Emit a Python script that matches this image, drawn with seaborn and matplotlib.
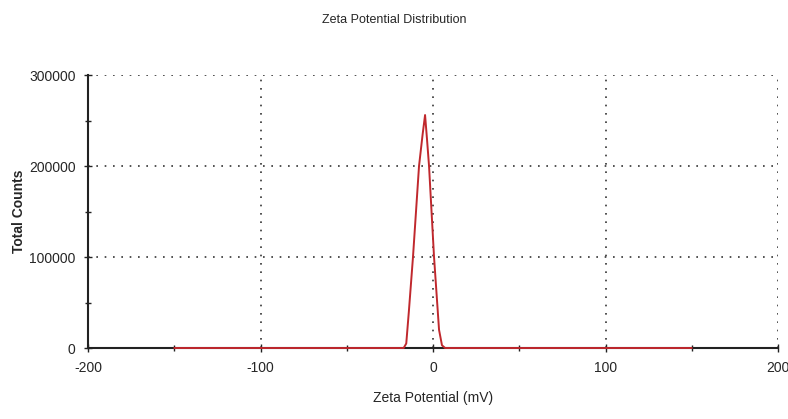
import matplotlib
matplotlib.use("Agg")
import matplotlib.pyplot as plt
import seaborn as sns
import pandas as pd
from matplotlib.ticker import MultipleLocator

zeta_mv = [-150, -17, -15.5, -14, -11.6, -8.1, -6, -4.6, -3.5, -2.3, 0.6, 3.5, 5.2, 7, 150]
counts = [0, 0, 5000, 40000, 100000, 200000, 235000, 256000, 230000, 200000, 100000, 20000, 3000, 0, 0]
x_ticks = [-200, -100, 0, 100, 200]
y_ticks = [0, 100000, 200000, 300000]

sns.set_theme(style="white")
plt.rcParams['font.family'] = ['Liberation Sans', 'DejaVu Sans']

df = pd.DataFrame({"Zeta Potential (mV)": zeta_mv, "Total Counts": counts})

fig = plt.figure(figsize=(7.88, 4.19), dpi=100)
ax = fig.add_axes([88/788, 1-348/419, 690/788, 273/419])

sns.lineplot(data=df, x="Zeta Potential (mV)", y="Total Counts", ax=ax,
             color="#c0282d", linewidth=1.4, zorder=5, clip_on=False)

ax.set_xlim(-200, 200)
ax.set_ylim(0, 300000)
ax.set_xticks(x_ticks)
ax.set_yticks(y_ticks)
ax.set_xticklabels([str(v) for v in x_ticks], fontsize=10)
ax.set_yticklabels([str(v) for v in y_ticks], fontsize=10)
ax.xaxis.set_minor_locator(MultipleLocator(50))
ax.yaxis.set_minor_locator(MultipleLocator(50000))
ax.tick_params(axis='both', which='major', direction='inout', length=6, width=1, color='#222222', pad=6)
ax.tick_params(axis='both', which='minor', direction='inout', length=5, width=1, color='#222222')
ax.tick_params(axis='x', which='both', bottom=True)
ax.tick_params(axis='y', which='both', left=True)

for v in [100000, 200000, 300000]:
    ax.axhline(v, color='#333333', linestyle=(0, (1, 4)), linewidth=1.2, zorder=1)
for v in [-100, 0, 100, 200]:
    ax.axvline(v, color='#333333', linestyle=(0, (1, 4)), linewidth=1.2, zorder=1)

for s in ['top', 'right']:
    ax.spines[s].set_visible(False)
for s in ['left', 'bottom']:
    ax.spines[s].set_color('#222222')
    ax.spines[s].set_linewidth(1.5)
    ax.spines[s].set_zorder(2)

ax.set_xlabel("Zeta Potential (mV)", fontsize=10, labelpad=12)
ax.set_ylabel("Total Counts", fontsize=10, labelpad=2, fontweight='bold')
fig.text(0.5, 1-20/419, "Zeta Potential Distribution", ha='center', va='center', fontsize=9)

fig.savefig("out.png", dpi=100)
